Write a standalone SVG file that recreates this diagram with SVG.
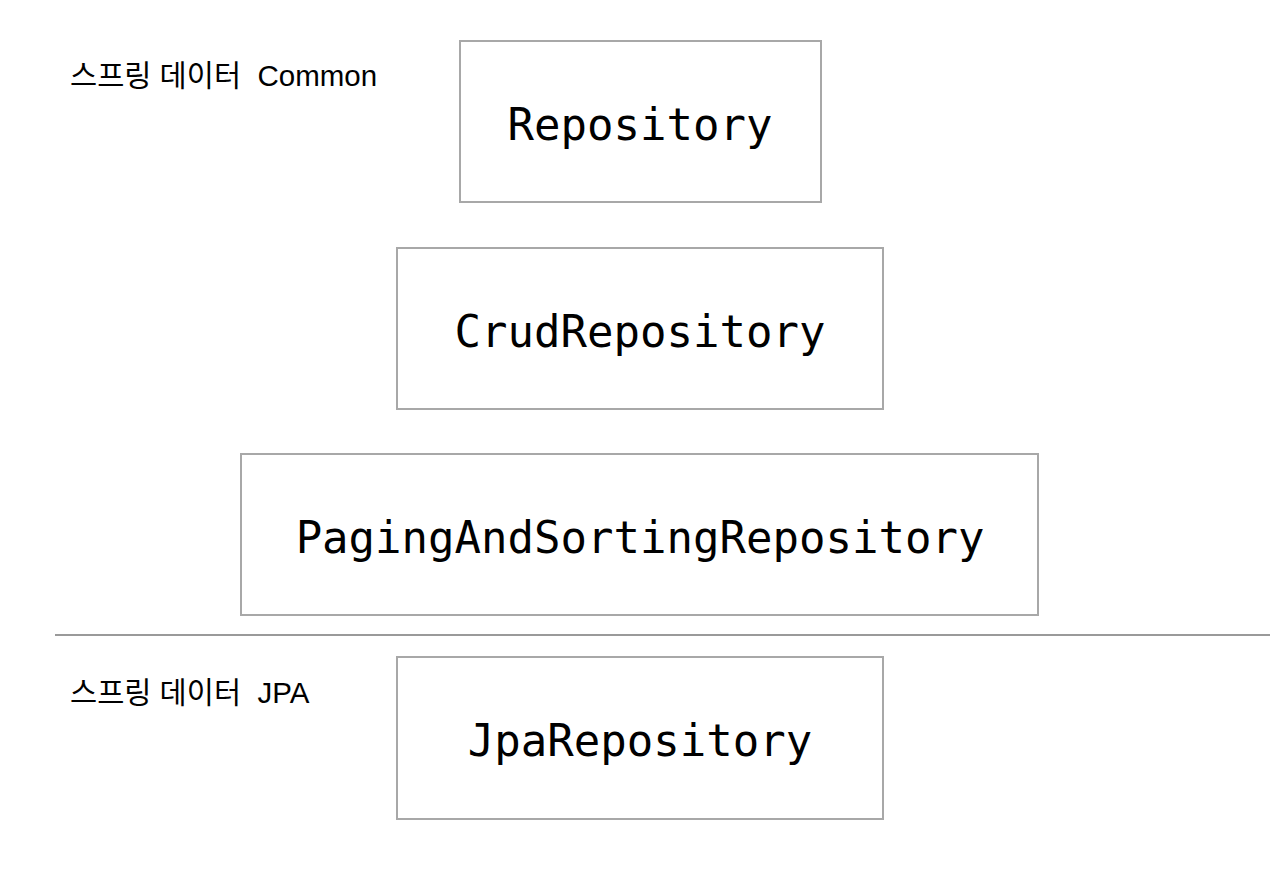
<svg xmlns="http://www.w3.org/2000/svg" width="1277" height="880" viewBox="0 0 1277 880">
<style>
.box{fill:#fff;stroke:#a8a8a8;stroke-width:2}
.code{font-family:"DejaVu Sans Mono","Liberation Mono",monospace;font-size:44px;fill:#000;text-anchor:middle}
.lbl{font-family:"Liberation Sans","Noto Sans CJK KR",sans-serif;font-size:29.5px;fill:#000;white-space:pre}
.sep{stroke:#9a9a9a;stroke-width:2}
</style>
<rect width="1277" height="880" fill="#fff"/>
<text class="lbl" x="70" y="86" xml:space="preserve">스프링 데이터  Common</text>
<text class="lbl" x="70" y="703" xml:space="preserve">스프링 데이터  JPA</text>
<line class="sep" x1="55" y1="635" x2="1270" y2="635"/>
<g id="repository">
<rect class="box" x="460" y="41" width="361" height="161"/>
<text class="code" x="640" y="140">Repository</text>
</g>
<g id="crud">
<rect class="box" x="397" y="248" width="486" height="161"/>
<text class="code" x="640" y="347">CrudRepository</text>
</g>
<g id="paging">
<rect class="box" x="241" y="454" width="797" height="161"/>
<text class="code" x="640" y="553">PagingAndSortingRepository</text>
</g>
<g id="jpa">
<rect class="box" x="397" y="657" width="486" height="162"/>
<text class="code" x="640" y="756">JpaRepository</text>
</g>
<g id="connectors"></g>
</svg>
